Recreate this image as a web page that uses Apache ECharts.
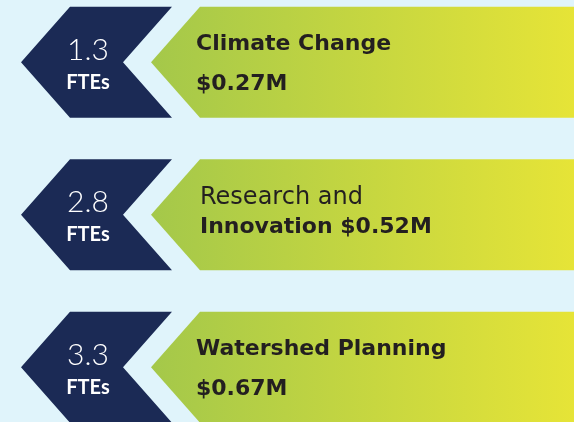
<!DOCTYPE html>
<html>
<head>
<meta charset="utf-8">
<script src="https://cdn.jsdelivr.net/npm/echarts@6/dist/echarts.min.js"></script>
<style>
  html, body { margin: 0; padding: 0; background: #e0f4fb; }
  #main { width: 574px; height: 422px; }
</style>
</head>
<body>
<div id="main"></div>
<script>
// data
var programs = ['Climate Change', 'Research and Innovation', 'Watershed Planning'];
var ftes = [1.3, 2.8, 3.3];
var funding = [0.27, 0.52, 0.67];          // $M
// how each label is split over two lines, and which line is bold
var line1 = ['Climate Change', 'Research and', 'Watershed Planning'];
var line2 = ['$0.27M', 'Innovation $0.52M', '$0.67M'];
var line1Bold = [true, false, true];

var chart = echarts.init(document.getElementById('main'));

var NUMFONT = 'Lato, sans-serif';
var FONT = '"DejaVu Sans", sans-serif';

function renderItem(params, api) {
  var i = params.dataIndex;
  var c = api.coord([0, api.value(0)])[1];
  var h = 55.5;
  var w = params.coordSys.width + params.coordSys.x;
  var dark = [[70, c - h], [172, c - h], [123, c], [172, c + h], [70, c + h], [21, c]];
  var green = [[200, c - h], [w, c - h], [w, c + h], [200, c + h], [151, c]];
  var tx = i === 1 ? 200 : 196;
  return {
    type: 'group',
    children: [
      { type: 'polygon', shape: { points: dark }, style: { fill: '#1b2a55' } },
      { type: 'polygon', shape: { points: green },
        style: { fill: new echarts.graphic.LinearGradient(0, 0, 1, 0, [
          { offset: 0, color: '#a4c84a' }, { offset: 1, color: '#e6e437' }
        ]) } },
      { type: 'text', style: { x: 88, y: c - 12, text: api.value(1).toFixed(1),
          fill: '#ffffff', font: '300 30px ' + NUMFONT, align: 'center', verticalAlign: 'middle' } },
      { type: 'text', style: { x: 88, y: c + 20, text: 'FTEs',
          fill: '#ffffff', font: 'bold 20px ' + NUMFONT, align: 'center', verticalAlign: 'middle' } },
      { type: 'text', style: { x: tx, y: i === 1 ? c - 17 : c - 18, text: line1[i],
          fill: '#231f20', font: line1Bold[i] ? 'bold 22px ' + FONT : 'normal 24px ' + FONT,
          align: 'left', verticalAlign: 'middle' } },
      { type: 'text', style: { x: tx, y: i === 1 ? c + 13 : c + 22, text: line2[i],
          fill: '#231f20', font: 'bold 22px ' + FONT, align: 'left', verticalAlign: 'middle' } }
    ]
  };
}

chart.setOption({
  backgroundColor: '#e0f4fb',
  animation: false,
  grid: { left: 0, right: 0, top: 0, bottom: 0 },
  xAxis: { type: 'value', min: 0, max: 1, show: false },
  // one unit per row, 152.5px apart, first row centred at y = 62
  yAxis: { type: 'value', inverse: true, min: -0.408, max: 2.359, show: false },
  series: [{
    type: 'custom',
    renderItem: renderItem,
    encode: { y: 0 },
    data: programs.map(function (p, i) { return [i, ftes[i], funding[i]]; })
  }]
});
</script>
</body>
</html>
